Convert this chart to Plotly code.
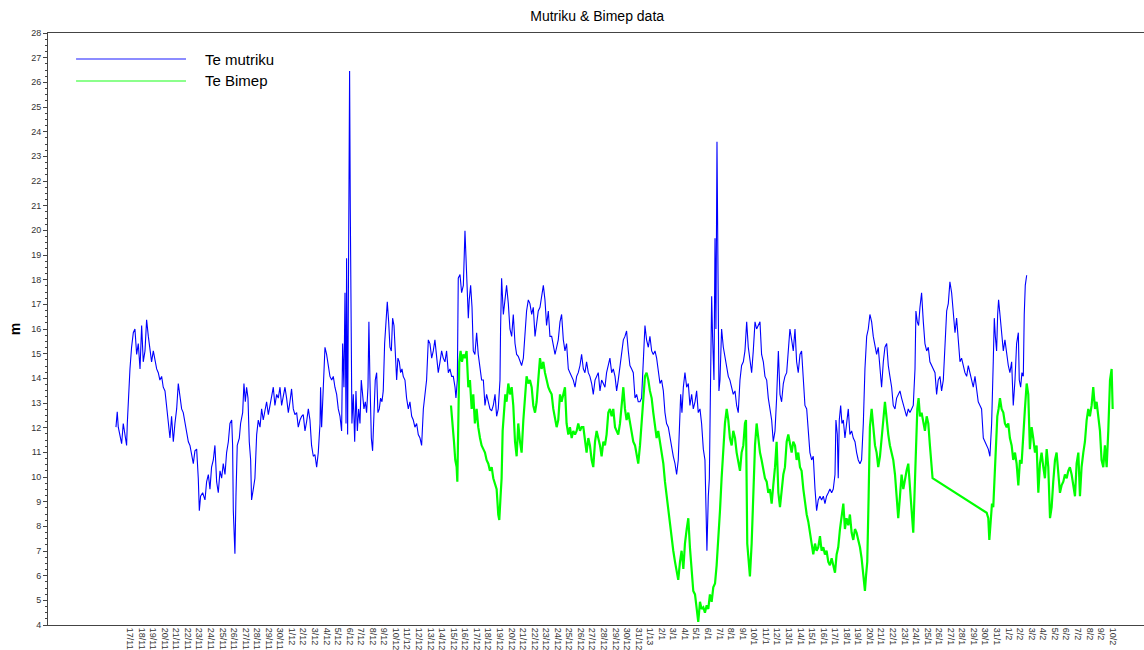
import plotly.graph_objects as go

# ---------------- data (days since 17/11/2012 00:00, Te in m) ----------------
tick_labels = (
    [f"{d}/11" for d in range(17, 31)]
    + [f"{d}/12" for d in range(1, 32)]
    + ["1/13"] + [f"{d}/1" for d in range(2, 32)]
    + [f"{d}/2" for d in range(1, 11)]
)
tick_days = list(range(len(tick_labels)))

mutriku_day = [
    -1.21, -1.10, -1.01, -0.87, -0.72, -0.58, -0.43, -0.29, -0.23, -0.09,
    0.00, 0.14, 0.29, 0.43, 0.58, 0.72, 0.87, 1.01, 1.15, 1.30,
    1.44, 1.59, 1.73, 1.87, 2.02, 2.16, 2.31, 2.45, 2.59, 2.74,
    2.88, 3.03, 3.17, 3.32, 3.46, 3.60, 3.75, 3.89, 4.04, 4.18,
    4.33, 4.47, 4.61, 4.76, 4.90, 5.05, 5.19, 5.33, 5.48, 5.62,
    5.77, 5.91, 6.00, 6.11, 6.29, 6.49, 6.63, 6.78, 6.92, 7.06,
    7.21, 7.35, 7.50, 7.64, 7.79, 7.93, 8.07, 8.22, 8.36, 8.51,
    8.65, 8.80, 8.88, 8.94, 9.03, 9.08, 9.17, 9.28, 9.46, 9.57,
    9.75, 9.86, 9.98, 10.09, 10.21, 10.32, 10.44, 10.52, 10.67, 10.81,
    10.96, 11.10, 11.25, 11.39, 11.53, 11.68, 11.82, 11.97, 12.11, 12.26,
    12.40, 12.54, 12.69, 12.83,
    12.98, 13.12, 13.26, 13.41, 13.55, 13.70, 13.84, 13.98, 14.13, 14.27,
    14.42, 14.56, 14.71, 14.85, 14.99, 15.14, 15.28, 15.43, 15.57, 15.71,
    15.86, 16.00, 16.15, 16.29, 16.44, 16.49, 16.58, 16.72, 16.87, 17.01,
    17.16, 17.30, 17.45, 17.59, 17.73, 17.88, 18.02, 18.17, 18.31, 18.40,
    18.51, 18.60, 18.69, 18.74, 18.83, 18.92, 19.00, 19.06, 19.12, 19.20,
    19.32, 19.44, 19.55, 19.67, 19.78, 19.90, 20.01, 20.13, 20.24, 20.36,
    20.47, 20.59, 20.67, 20.76, 20.88, 20.99, 21.11, 21.22, 21.34, 21.45,
    21.57, 21.68, 21.80, 21.91, 22.03, 22.15, 22.26, 22.38, 22.49, 22.61,
    22.72, 22.84, 22.95, 23.07, 23.18, 23.30, 23.41, 23.53, 23.64, 23.79,
    23.93, 24.08, 24.22, 24.37, 24.51, 24.65, 24.80, 24.94, 25.09, 25.23,
    25.38, 25.52, 25.66, 25.81, 25.95, 26.10, 26.24, 26.38, 26.53, 26.67,
    26.82, 26.96, 27.10, 27.25, 27.39, 27.54, 27.68, 27.83,
    27.97, 28.12, 28.20, 28.32, 28.40, 28.55, 28.69, 28.84, 28.98, 29.07,
    29.18, 29.27, 29.35, 29.47, 29.59, 29.70, 29.84, 29.99, 30.13, 30.28,
    30.42, 30.57, 30.71, 30.85, 31.00, 31.14, 31.29, 31.43, 31.58, 31.72,
    31.86, 32.01, 32.06, 32.15, 32.30, 32.44, 32.58, 32.73, 32.87, 33.02,
    33.16, 33.31, 33.45, 33.59, 33.74, 33.88, 34.03, 34.17, 34.31, 34.46,
    34.60, 34.75, 34.89, 35.04, 35.18, 35.32, 35.47, 35.61, 35.76, 35.90,
    36.04, 36.19, 36.33, 36.48, 36.62, 36.77, 36.91, 37.05, 37.20, 37.34,
    37.49, 37.63, 37.77, 37.92, 38.06, 38.21, 38.35, 38.50, 38.64, 38.78,
    38.93, 39.07, 39.22, 39.36, 39.50, 39.65, 39.79, 39.94, 40.08, 40.23,
    40.37, 40.51, 40.66, 40.80, 40.95, 41.09, 41.23, 41.38, 41.52, 41.67,
    41.81, 41.96, 42.10, 42.24, 42.39, 42.53, 42.68,
    42.82, 42.96, 43.11, 43.25, 43.40, 43.54, 43.69, 43.83, 43.97, 44.12,
    44.26, 44.41, 44.55, 44.69, 44.84, 44.98, 45.13, 45.27, 45.42, 45.56,
    45.70, 45.85, 45.99, 46.14, 46.28, 46.42, 46.57, 46.71, 46.86, 47.00,
    47.15, 47.29, 47.43, 47.52, 47.64, 47.75, 47.87, 48.01, 48.16, 48.30,
    48.44, 48.59, 48.73, 48.88, 49.02, 49.16, 49.31, 49.45, 49.60, 49.74,
    49.83, 49.91, 50.03, 50.12, 50.23, 50.32, 50.40, 50.52, 50.61, 50.69,
    50.78, 50.86, 50.95, 51.04, 51.18, 51.33, 51.47, 51.62, 51.76, 51.90,
    52.05, 52.19, 52.34, 52.48, 52.62, 52.77, 52.91, 53.06, 53.20, 53.35,
    53.49, 53.63, 53.78, 53.92, 54.07, 54.21, 54.36, 54.50, 54.64, 54.79,
    54.93, 55.08, 55.22, 55.36, 55.51, 55.65, 55.80, 55.94, 56.09, 56.23,
    56.37, 56.52, 56.66, 56.81, 56.95, 57.09, 57.24, 57.38,
    57.53, 57.67, 57.81, 57.96, 58.10, 58.25, 58.39, 58.54, 58.68, 58.82,
    58.97, 59.11, 59.26, 59.40, 59.54, 59.69, 59.83, 59.98, 60.12, 60.26,
    60.41, 60.55, 60.70, 60.84, 60.99, 61.07, 61.19, 61.27, 61.36, 61.48,
    61.59, 61.71, 61.85, 61.99, 62.14, 62.28, 62.43, 62.57, 62.72, 62.86,
    63.00, 63.15, 63.29, 63.44, 63.58, 63.73, 63.87, 64.01, 64.16, 64.30,
    64.45, 64.59, 64.73, 64.88, 65.02, 65.17, 65.31, 65.46, 65.60, 65.74,
    65.89, 66.03, 66.18, 66.32, 66.46, 66.61, 66.75, 66.90, 67.04, 67.18,
    67.33, 67.47, 67.62, 67.76, 67.91, 67.99, 68.11, 68.22, 68.34, 68.48,
    68.63, 68.77, 68.92, 69.06, 69.20, 69.35, 69.49, 69.64, 69.78, 69.92,
    70.07, 70.21, 70.36, 70.50, 70.65, 70.79, 70.93, 71.08, 71.22, 71.37,
    71.51, 71.66, 71.80, 71.94, 72.09,
    72.23, 72.38, 72.52, 72.66, 72.81, 72.95, 73.10, 73.24, 73.38, 73.53,
    73.67, 73.82, 73.96, 74.11, 74.25, 74.39, 74.54, 74.68, 74.77, 74.86,
    74.97, 75.06, 75.14, 75.26, 75.40, 75.55, 75.69, 75.84, 75.98, 76.12,
    76.27, 76.41, 76.56, 76.70, 76.85, 76.93, 77.05, 77.16, 77.28, 77.36,
    77.45, 77.57,
]
mutriku_te = [
    12.02, 12.64, 12.02, 11.72, 11.35, 12.17, 11.58, 11.28, 12.17, 13.64,
    14.38, 15.26, 15.85, 16.00, 14.97, 15.41, 14.38, 16.14, 14.67, 15.11,
    16.37, 15.70, 15.26, 14.67, 15.11, 14.67, 14.38, 14.23, 13.93, 14.08,
    13.64, 13.49, 12.76, 12.02, 11.58, 12.46, 11.43, 12.17, 12.76, 13.79,
    13.35, 12.76, 12.61, 12.17, 11.72, 11.43, 11.28, 10.99, 10.54, 11.06,
    11.13, 9.95, 8.63, 9.22, 9.36, 9.07, 9.80, 10.10, 9.51, 10.40,
    10.69, 11.28, 9.80, 9.36, 10.25, 9.95, 10.54, 10.10, 10.99, 11.43,
    12.17, 12.31, 11.28, 8.63, 7.74, 6.89, 9.22, 11.28, 11.58, 12.17,
    12.61, 13.79, 13.05, 13.64, 13.20, 11.43, 10.69, 9.07, 9.51, 9.95,
    11.72, 12.31, 12.02, 12.76, 12.31, 12.76, 13.05, 12.53, 12.90, 13.20,
    13.64, 12.90, 13.35, 13.20,
    13.64, 12.90, 13.35, 13.64, 13.20, 12.61, 13.05, 13.57, 12.76, 12.53,
    12.61, 12.02, 12.31, 12.46, 12.53, 11.87, 12.24, 12.76, 12.31, 11.28,
    10.84, 10.91, 10.40, 10.99, 12.17, 13.64, 12.02, 13.93, 15.26, 14.97,
    14.38, 14.08, 13.93, 14.08, 13.64, 13.35, 12.76, 12.46, 11.87, 15.41,
    13.64, 17.47, 12.17, 18.87, 11.72, 20.42, 26.46, 20.86, 16.59, 12.17,
    13.35, 11.43, 13.49, 11.87, 12.76, 12.17, 13.93, 13.20, 12.76, 13.05,
    12.61, 13.64, 16.29, 13.93, 11.58, 11.06, 12.46, 13.93, 14.23, 12.61,
    12.76, 13.20, 13.05, 13.49, 15.41, 16.59, 17.10, 16.29, 15.26, 15.11,
    16.44, 16.14, 15.26, 13.93, 14.82, 14.67, 14.23, 14.38, 14.08, 13.93,
    13.20, 12.76, 13.05, 12.46, 12.31, 12.02, 12.17, 11.72, 11.58, 11.28,
    12.76, 13.35, 13.93, 15.56, 15.41, 14.82, 15.11, 15.56, 14.97, 14.23,
    14.67, 15.11, 14.82, 14.67, 15.11, 14.23, 14.38, 14.08,
    14.08, 13.64, 13.20, 13.93, 18.06, 18.21, 17.47, 17.77, 19.98, 18.65,
    17.77, 16.44, 17.18, 17.77, 16.88, 15.11, 14.97, 15.85, 14.97, 14.38,
    13.93, 13.93, 12.90, 13.35, 13.05, 12.76, 12.68, 12.90, 13.35, 12.46,
    12.76, 13.93, 16.00, 18.06, 16.59, 17.18, 17.77, 17.03, 16.00, 15.70,
    16.59, 15.41, 14.97, 14.89, 14.67, 14.52, 14.82, 16.00, 16.73, 17.18,
    17.03, 16.59, 16.88, 15.70, 16.29, 16.73, 16.88, 17.33, 17.77, 17.18,
    16.14, 16.73, 15.70, 15.70, 15.26, 14.97, 15.26, 15.56, 16.29, 16.59,
    15.56, 15.11, 15.41, 14.38, 14.23, 14.08, 13.93, 13.64, 14.08, 14.23,
    14.52, 14.97, 14.38, 14.23, 14.67, 14.23, 14.08, 13.79, 13.35, 13.93,
    14.08, 14.23, 13.49, 13.93, 13.79, 13.64, 14.23, 14.52, 14.82, 14.23,
    14.38, 14.08, 13.49, 13.93, 14.52, 15.11, 15.56,
    15.70, 15.92, 15.11, 14.52, 14.38, 14.23, 13.20, 13.35, 13.05, 13.05,
    13.20, 14.52, 16.14, 15.56, 15.26, 15.70, 15.11, 14.97, 15.11, 14.82,
    14.23, 13.79, 13.93, 13.49, 12.61, 12.17, 12.02, 11.58, 11.13, 10.84,
    10.54, 10.10, 10.69, 11.87, 13.35, 12.61, 13.64, 14.23, 13.64, 13.79,
    12.90, 13.35, 12.76, 13.05, 13.49, 12.61, 12.76, 12.17, 11.13, 10.69,
    8.78, 7.01, 9.22, 9.95, 14.08, 17.33, 15.70, 13.93, 19.68, 16.00,
    23.59, 19.98, 13.49, 13.93, 16.00, 15.26, 14.82, 14.38, 14.08, 13.93,
    13.64, 13.35, 13.49, 12.90, 12.61, 13.93, 14.52, 14.67, 15.11, 16.29,
    15.26, 14.67, 14.23, 15.11, 16.29, 16.00, 16.14, 16.29, 14.97, 14.67,
    14.08, 13.93, 13.20, 12.76, 12.31, 11.43, 11.87, 13.20, 15.11, 13.35,
    13.05, 13.79, 14.08, 14.23, 15.26, 16.00, 15.56, 15.11,
    16.00, 14.67, 14.23, 14.97, 15.11, 13.64, 12.90, 12.76, 11.72, 10.99,
    10.69, 10.84, 9.51, 8.63, 9.07, 9.22, 9.07, 9.22, 8.92, 9.22,
    9.36, 9.51, 9.36, 9.51, 10.10, 12.31, 11.72, 9.95, 12.31, 12.90,
    12.17, 12.31, 11.58, 12.17, 12.76, 11.72, 11.87, 11.58, 11.43, 10.99,
    10.69, 10.54, 10.69, 12.17, 14.38, 15.70, 16.00, 16.59, 16.29, 15.70,
    15.26, 14.97, 15.26, 14.38, 13.64, 14.67, 15.26, 15.41, 14.52, 14.08,
    13.64, 12.90, 12.76, 13.20, 13.35, 13.49, 13.20, 12.90, 12.61, 12.46,
    12.76, 12.61, 12.76, 12.90, 14.38, 16.73, 16.29, 16.14, 16.88, 17.47,
    16.29, 15.41, 15.11, 15.26, 14.67, 14.52, 14.38, 14.23, 13.35, 13.93,
    14.08, 13.49, 13.93, 15.11, 16.73, 17.03, 17.91, 17.47, 16.59, 15.85,
    16.44, 15.41, 14.67, 14.82, 14.52,
    14.23, 14.08, 14.52, 14.23, 13.93, 13.64, 14.08, 13.49, 13.05, 12.90,
    12.76, 11.58, 11.43, 11.28, 11.13, 10.84, 12.17, 14.67, 16.44, 15.70,
    15.11, 16.59, 17.18, 16.59, 15.70, 15.11, 15.56, 14.97, 14.52, 14.23,
    14.67, 12.90, 13.93, 15.41, 15.85, 13.93, 13.64, 14.23, 14.08, 16.59,
    17.77, 18.18,
]

bimep_day = [
    27.77, 27.91, 28.03, 28.14, 28.26, 28.32, 28.40, 28.49, 28.60, 28.72,
    28.84, 28.98, 29.12, 29.27, 29.41, 29.56, 29.70, 29.84, 29.99, 30.13,
    30.28, 30.42, 30.57, 30.71, 30.85, 31.00, 31.14, 31.29, 31.43, 31.58,
    31.72, 31.86, 31.95, 32.06, 32.15, 32.24, 32.35, 32.47, 32.58, 32.73,
    32.87, 33.02, 33.16, 33.31, 33.45, 33.59, 33.74, 33.88, 34.03, 34.17,
    34.31, 34.46, 34.60, 34.75, 34.89, 35.04, 35.18, 35.32, 35.47, 35.61,
    35.76, 35.90, 36.04, 36.19, 36.33, 36.48, 36.62, 36.77, 36.91, 37.05,
    37.20, 37.34, 37.49, 37.63, 37.77, 37.92, 38.06, 38.21, 38.35, 38.50,
    38.64, 38.78, 38.93, 39.07, 39.22, 39.36, 39.50, 39.65, 39.79, 39.94,
    40.08, 40.23, 40.37, 40.51, 40.66, 40.80, 40.95, 41.09, 41.23, 41.38,
    41.52, 41.67, 41.81, 41.96, 42.10, 42.24, 42.39, 42.53, 42.68,
    42.82, 42.96, 43.11, 43.25, 43.40, 43.54, 43.69, 43.83, 43.97, 44.12,
    44.26, 44.41, 44.55, 44.69, 44.84, 44.98, 45.13, 45.27, 45.42, 45.56,
    45.70, 45.85, 45.99, 46.14, 46.28, 46.42, 46.57, 46.71, 46.86, 47.00,
    47.15, 47.29, 47.43, 47.58, 47.72, 47.87, 48.01, 48.16, 48.30, 48.44,
    48.59, 48.73, 48.88, 49.02, 49.16, 49.31, 49.45, 49.60, 49.74, 49.89,
    50.03, 50.17, 50.32, 50.46, 50.61, 50.75, 50.89, 51.04, 51.18, 51.33,
    51.47, 51.62, 51.76, 51.90, 52.05, 52.19, 52.34, 52.48, 52.62, 52.77,
    52.91, 53.06, 53.20, 53.29, 53.40, 53.52, 53.63, 53.78, 53.92, 54.07,
    54.21, 54.36, 54.50, 54.64, 54.79, 54.93, 55.08, 55.22, 55.36, 55.51,
    55.65, 55.80, 55.94, 56.09, 56.23, 56.37, 56.52, 56.66, 56.81, 56.95,
    57.09, 57.24, 57.38,
    57.53, 57.67, 57.81, 57.96, 58.10, 58.25, 58.39, 58.54, 58.68, 58.82,
    58.97, 59.11, 59.26, 59.40, 59.54, 59.69, 59.83, 59.98, 60.12, 60.26,
    60.41, 60.55, 60.70, 60.84, 60.99, 61.13, 61.27, 61.42, 61.56, 61.71,
    61.85, 61.99, 62.14, 62.28, 62.43, 62.57, 62.72, 62.86, 63.00, 63.15,
    63.29, 63.44, 63.58, 63.67, 63.78, 63.90, 64.01, 64.16, 64.30, 64.45,
    64.59, 64.73, 64.88, 65.02, 65.17, 65.31, 65.46, 65.60, 65.74, 65.89,
    66.03, 66.18, 66.32, 66.46, 66.61, 66.75, 66.90, 67.04, 67.18, 67.33,
    67.47, 67.62, 67.76, 67.91, 67.99, 68.11, 68.22, 68.34, 68.48, 68.63,
    68.77, 68.92, 69.06, 69.20, 69.35, 69.43,
    74.11, 74.25, 74.34, 74.45, 74.57, 74.68, 74.80, 74.91, 75.03, 75.14,
    75.26, 75.40, 75.55, 75.69, 75.84, 75.98, 76.12, 76.27, 76.41, 76.56,
    76.70, 76.85, 76.99, 77.13, 77.28, 77.42, 77.57, 77.71, 77.85, 78.00,
    78.14, 78.29, 78.43, 78.58, 78.72, 78.86, 79.01, 79.15, 79.30, 79.44,
    79.59, 79.73, 79.87, 80.02, 80.16, 80.31, 80.45, 80.59, 80.74, 80.88,
    81.03, 81.17, 81.31, 81.46, 81.60, 81.75, 81.89, 82.04, 82.18, 82.32,
    82.47, 82.61, 82.76, 82.90, 83.04, 83.19, 83.33, 83.48, 83.62, 83.77,
    83.91, 84.05, 84.20, 84.34, 84.49, 84.63, 84.78, 84.92, 85.01,
]
bimep_te = [
    12.90, 11.87, 11.43, 10.69, 10.40, 9.81, 12.61, 14.67, 15.11, 14.67,
    14.97, 14.82, 15.11, 13.64, 13.93, 12.76, 13.35, 12.17, 12.76, 12.02,
    11.58, 11.28, 11.13, 10.99, 10.69, 10.54, 10.25, 10.40, 9.95, 9.66,
    9.51, 8.48, 8.26, 9.22, 9.95, 11.87, 12.76, 13.35, 13.05, 13.79,
    13.35, 13.64, 12.90, 11.43, 10.84, 12.17, 11.43, 10.99, 12.31, 13.05,
    14.08, 13.79, 13.93, 13.64, 12.90, 12.61, 13.05, 13.93, 14.82, 14.38,
    14.67, 14.23, 13.93, 13.64, 13.49, 13.35, 12.76, 12.31, 12.02, 12.31,
    13.35, 13.05, 13.35, 13.64, 12.17, 11.72, 12.02, 11.58, 11.87, 11.72,
    11.87, 12.17, 11.87, 12.02, 12.02, 11.43, 10.99, 11.58, 11.28, 10.69,
    10.40, 11.43, 11.87, 11.58, 11.28, 10.84, 11.43, 11.28, 11.72, 12.61,
    12.76, 12.46, 12.76, 12.02, 11.87, 11.72, 12.17, 12.76, 13.64,
    12.76, 12.31, 12.61, 12.17, 11.87, 11.43, 11.28, 10.84, 10.54, 11.28,
    12.17, 13.20, 14.08, 14.23, 13.93, 13.49, 13.20, 12.61, 12.02, 11.58,
    11.87, 11.43, 10.99, 10.54, 9.81, 9.22, 8.63, 8.04, 7.45, 7.01,
    6.56, 6.12, 5.83, 6.56, 7.01, 6.27, 7.30, 7.89, 8.33, 7.15,
    6.12, 5.38, 5.24, 4.65, 4.13, 4.94, 4.65, 4.72, 4.50, 4.80,
    4.65, 5.24, 4.94, 5.53, 5.68, 6.42, 7.30, 8.63, 9.95, 10.99,
    12.17, 12.76, 12.31, 11.58, 11.28, 11.87, 11.58, 10.99, 10.54, 10.25,
    10.99, 11.28, 12.17, 12.31, 7.30, 6.56, 5.97, 7.30, 9.22, 11.28,
    12.17, 11.43, 10.99, 10.69, 10.25, 9.95, 9.81, 9.36, 9.51, 8.92,
    9.66, 10.40, 11.43, 9.36, 8.78, 9.51, 10.10, 10.40, 11.43, 11.72,
    11.28, 10.99, 11.43,
    11.28, 10.69, 10.99, 10.40, 10.25, 9.51, 8.92, 8.48, 8.19, 7.74,
    7.45, 6.86, 7.30, 7.01, 7.15, 7.60, 7.01, 7.15, 6.86, 7.01,
    6.56, 6.42, 6.71, 6.42, 6.12, 6.86, 7.15, 7.89, 8.48, 8.92,
    7.89, 8.33, 8.04, 8.48, 7.74, 7.45, 7.89, 7.74, 7.45, 7.15,
    6.71, 6.12, 5.38, 5.97, 6.56, 9.22, 12.02, 12.76, 12.17, 11.28,
    10.99, 10.40, 10.84, 11.43, 12.31, 13.05, 12.31, 11.72, 11.28, 10.99,
    10.69, 10.10, 9.22, 8.33, 9.22, 10.10, 9.51, 9.95, 10.25, 10.54,
    9.36, 8.63, 7.74, 10.10, 11.87, 12.76, 13.20, 12.46, 12.61, 12.17,
    11.87, 12.46, 12.17, 11.28, 10.40, 9.95,
    8.55, 8.33, 7.45, 8.33, 8.92, 8.78, 9.95, 11.43, 12.46, 12.76,
    13.20, 12.76, 12.61, 12.17, 12.02, 12.17, 11.58, 11.28, 10.69, 10.99,
    10.54, 9.66, 10.69, 10.54, 11.87, 12.76, 13.79, 13.35, 11.13, 12.02,
    11.58, 10.99, 11.28, 9.36, 10.54, 10.99, 10.40, 9.95, 11.13, 10.40,
    8.33, 8.78, 9.81, 10.69, 10.99, 9.95, 9.36, 9.66, 9.81, 10.10,
    9.95, 10.25, 10.40, 10.10, 9.66, 9.22, 10.54, 10.99, 9.22, 10.40,
    10.99, 11.43, 12.31, 12.76, 12.46, 12.90, 13.64, 12.76, 13.05, 12.46,
    11.87, 10.69, 10.40, 11.28, 10.40, 11.87, 13.93, 14.38, 12.76,
]

series_names = ["Te mutriku", "Te Bimep"]
series_colors = ["#0000ff", "#00ff00"]

# ---------------- figure ----------------
FONT = "Liberation Sans, Arial, sans-serif"
fig = go.Figure()

n1 = min(len(mutriku_day), len(mutriku_te))
n2 = min(len(bimep_day), len(bimep_te))
fig.add_trace(go.Scatter(x=mutriku_day[:n1], y=mutriku_te[:n1], mode="lines",
                         name=series_names[0],
                         line=dict(color=series_colors[0], width=1.1)))
fig.add_trace(go.Scatter(x=bimep_day[:n2], y=bimep_te[:n2], mode="lines",
                         name=series_names[1],
                         line=dict(color=series_colors[1], width=2.2)))

# legend drawn inside the plot (long sample lines like the original)
legend_rows = [0.956, 0.919]
for name, col, yy in zip(series_names, series_colors, legend_rows):
    fig.add_shape(type="line", xref="paper", yref="paper",
                  x0=0.0256, x1=0.1259, y0=yy, y1=yy,
                  line=dict(color=col, width=1.5), opacity=0.6)
    fig.add_annotation(xref="paper", yref="paper", x=0.1414, y=yy,
                       xanchor="left", yanchor="middle", text=name,
                       showarrow=False, font=dict(family=FONT, size=15, color="#000"))

fig.update_layout(
    width=1144, height=650,
    margin=dict(l=48, r=0, t=33, b=25),
    paper_bgcolor="white", plot_bgcolor="white",
    showlegend=False,
    title=dict(text="Mutriku & Bimep data", x=0.522, xanchor="center",
               y=0.975, yanchor="middle", yref="container",
               font=dict(family=FONT, size=14, color="#000")),
    font=dict(family=FONT),
)
fig.update_xaxes(
    range=[-7.09, 87.72], tickmode="array", tickvals=tick_days, ticktext=tick_labels,
    tickangle=90, tickfont=dict(family=FONT, size=9, color="#333"),
    showgrid=False, zeroline=False, showline=True, linecolor="#444", linewidth=1,
    mirror=True, ticks="", automargin=False,
)
fig.update_yaxes(
    range=[4, 28], dtick=1, tick0=4, tickfont=dict(family=FONT, size=9, color="#333"),
    showgrid=False, zeroline=False, showline=True, linecolor="#444", linewidth=1,
    ticks="outside", ticklen=4, tickcolor="#444",
    minor=dict(dtick=0.25, ticks="outside", ticklen=2, tickcolor="#444"),
    title=dict(text="<b>m</b>", standoff=7, font=dict(family=FONT, size=14, color="#000")),
    automargin=False,
)

fig.write_html("out.html")
